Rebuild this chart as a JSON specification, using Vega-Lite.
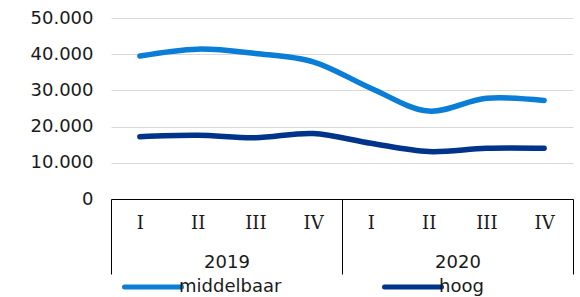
{
  "$schema": "https://vega.github.io/schema/vega-lite/v6.json",
  "autosize": "none",
  "width": 462,
  "height": 181,
  "padding": {"left": 111, "top": 18, "right": 7, "bottom": 98},
  "background": "white",
  "config": {
    "font": "DejaVu Sans",
    "view": {"stroke": null},
    "axis": {"labelFont": "DejaVu Sans", "labelFontSize": 18, "labelColor": "#1a1a1a", "title": null}
  },
  "data": {"values": [
    {"key": "2019-I", "year": "2019", "series": "middelbaar", "value": 39500},
    {"key": "2019-II", "year": "2019", "series": "middelbaar", "value": 41400},
    {"key": "2019-III", "year": "2019", "series": "middelbaar", "value": 40200},
    {"key": "2019-IV", "year": "2019", "series": "middelbaar", "value": 37900},
    {"key": "2020-I", "year": "2020", "series": "middelbaar", "value": 30600},
    {"key": "2020-II", "year": "2020", "series": "middelbaar", "value": 24300},
    {"key": "2020-III", "year": "2020", "series": "middelbaar", "value": 27800},
    {"key": "2020-IV", "year": "2020", "series": "middelbaar", "value": 27200},
    {"key": "2019-I", "year": "2019", "series": "hoog", "value": 17200},
    {"key": "2019-II", "year": "2019", "series": "hoog", "value": 17600},
    {"key": "2019-III", "year": "2019", "series": "hoog", "value": 16900},
    {"key": "2019-IV", "year": "2019", "series": "hoog", "value": 18100},
    {"key": "2020-I", "year": "2020", "series": "hoog", "value": 15400},
    {"key": "2020-II", "year": "2020", "series": "hoog", "value": 13100},
    {"key": "2020-III", "year": "2020", "series": "hoog", "value": 14000},
    {"key": "2020-IV", "year": "2020", "series": "hoog", "value": 14000}
  ]},
  "layer": [
    {
      "mark": {"type": "rule", "opacity": 0},
      "encoding": {
        "x": {
          "field": "year", "type": "ordinal",
          "scale": {"type": "band", "paddingInner": 0, "paddingOuter": 0},
          "axis": {
            "orient": "bottom", "domain": true, "domainColor": "#000000", "domainWidth": 1,
            "ticks": true, "tickBand": "extent", "tickSize": 75, "tickColor": "#000000", "tickWidth": 1,
            "labelPadding": -21, "labelAngle": 0, "grid": false
          }
        }
      }
    },
    {
      "mark": {"type": "line", "interpolate": "catmull-rom", "strokeWidth": 5.5, "strokeCap": "round", "strokeJoin": "round"},
      "encoding": {
        "x": {
          "field": "key", "type": "ordinal", "sort": null,
          "scale": {"type": "point", "padding": 0.5},
          "axis": {
            "orient": "bottom", "domain": false, "ticks": false, "grid": false,
            "labelFont": "DejaVu Serif", "labelAngle": 0, "labelPadding": 15,
            "labelExpr": "split(datum.label, '-')[1]"
          }
        },
        "y": {
          "field": "value", "type": "quantitative",
          "scale": {"domain": [0, 50000], "nice": false},
          "axis": {
            "values": [0, 10000, 20000, 30000, 40000, 50000],
            "domain": false, "ticks": false, "grid": true, "gridColor": "#d9d9d9", "gridWidth": 1.2,
            "labelPadding": 18,
            "labelExpr": "replace(format(datum.value, ','), ',', '.')"
          }
        },
        "color": {
          "field": "series", "type": "nominal", "sort": ["middelbaar", "hoog"],
          "scale": {"domain": ["middelbaar", "hoog"], "range": ["#0a7ed6", "#00338a"]},
          "legend": {
            "title": null, "orient": "none", "legendX": 11, "legendY": 238,
            "direction": "horizontal", "symbolType": "stroke", "symbolSize": 3249,
            "symbolStrokeWidth": 5, "labelFontSize": 18, "labelFont": "DejaVu Sans", "labelColor": "#1a1a1a",
            "labelOffset": -5, "columnPadding": 92,
            "encode": {"symbols": {"update": {"strokeCap": {"value": "round"}}}}
          }
        }
      }
    }
  ],
  "resolve": {"scale": {"x": "independent"}, "axis": {"x": "independent"}}
}
